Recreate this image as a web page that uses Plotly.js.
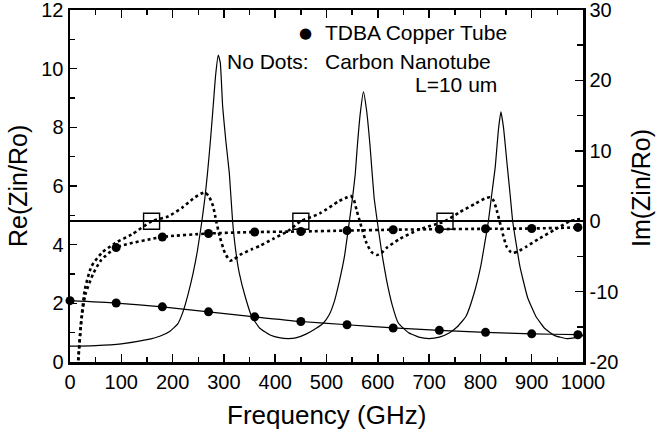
<!DOCTYPE html>
<html>
<head>
<meta charset="utf-8">
<script src="https://cdn.plot.ly/plotly-3.0.1.min.js"></script>
<style>html,body{margin:0;padding:0;background:#fff;}#chart{width:659px;height:436px;}</style>
</head>
<body>
<div id="chart"></div>
<script>
// ---- Data ----
// Carbon nanotube, Re(Zin/Ro) (left axis)
const cntReFreq = [0, 50, 100, 150, 175, 195, 210, 220, 230, 240, 248, 257, 263, 268, 274, 279, 284, 289, 293, 297.6, 304, 310.6, 317, 323, 330, 342, 354, 370, 390, 410, 425, 440, 460, 480, 494, 505, 515, 525, 535, 544.5, 551, 556, 560, 566, 572, 578, 585, 592.6, 599, 608, 617, 628, 640, 660, 680, 700, 720, 740, 755, 772, 787, 800.6, 808, 815.5, 822, 829, 835, 840, 845, 852.5, 858, 863, 870, 877, 892, 908, 925, 945, 968, 985, 1000];
const cntRe = [0.54, 0.56, 0.62, 0.76, 0.88, 1.05, 1.3, 1.7, 2.3, 3.03, 3.75, 4.79, 5.6, 6.43, 7.6, 8.7, 9.8, 10.46, 10.2, 8.7, 7.5, 6.43, 4.79, 3.8, 3.03, 2.2, 1.56, 1.15, 0.92, 0.82, 0.8, 0.82, 0.95, 1.15, 1.33, 1.6, 2.05, 2.75, 3.6, 4.79, 5.64, 6.4, 7.34, 8.5, 9.21, 8.6, 7.34, 5.64, 4.79, 3.7, 2.8, 1.95, 1.33, 1.0, 0.85, 0.8, 0.85, 1.0, 1.2, 1.56, 2.3, 3.26, 4.0, 4.79, 5.7, 6.66, 7.9, 8.53, 8.0, 6.66, 5.7, 4.79, 4.0, 3.26, 2.2, 1.56, 1.15, 0.9, 0.8, 0.83, 0.9];

// Carbon nanotube, Im(Zin/Ro) (right axis)
const cntImFreq = [12, 16, 22.7, 29, 42, 62, 88, 120, 160, 192, 220, 240, 255, 263, 271, 279, 285, 292, 302, 312, 320, 331, 354, 370, 396, 425, 450, 487, 523, 540, 547, 553, 558.6, 568, 578, 588, 598, 607, 617, 643, 680, 710, 731, 760, 790, 808, 818.7, 825, 831.7, 841.5, 851, 858, 864, 876, 890, 916, 945, 975, 1000];
const cntIm = [-24, -19.7, -13.5, -9.7, -6.4, -4.5, -3.1, -1.9, 0, 0.7, 2.0, 3.2, 3.9, 4.1, 3.5, 2.1, 0, -2.2, -4.5, -5.6, -5.4, -4.8, -4.0, -3.5, -2.5, -1.4, 0, 1.1, 2.8, 3.4, 3.6, 3.1, 1.6, -0.8, -3.1, -4.4, -4.8, -4.5, -3.8, -2.5, -1.2, -0.5, 0, 1.3, 2.5, 3.2, 3.4, 3.0, 1.6, -1.2, -3.6, -4.3, -4.5, -4.2, -3.6, -2.4, -1.2, 0, 0.4];

// TDBA copper tube (dots)
const cuDotFreq = [0, 90, 180, 270, 360, 450, 540, 630, 720, 810, 900, 990];
const cuReDots = [2.09, 2.01, 1.88, 1.71, 1.54, 1.38, 1.27, 1.16, 1.08, 1.01, 0.96, 0.93];
const cuImDotFreq = [90, 180, 270, 360, 450, 540, 630, 720, 810, 900, 990];
const cuImDots = [-3.75, -2.25, -1.75, -1.54, -1.46, -1.33, -1.21, -1.13, -1.08, -1.04, -0.88];
// copper Im curve lead-in below first dot and tails to the edge
const cuImLeadFreq = [12, 16, 22, 30, 45, 60];
const cuImLead = [-24, -20, -14.2, -10.4, -7.5, -5.6];
const cuReTailFreq = [1000];
const cuReTail = [0.92];
const cuImTailFreq = [1000];
const cuImTail = [-0.85];

// Open squares on the zero line
const squareFreq = [159, 450, 731];
const squareIm = [0, 0, 0];

// Tick labels
const xTicks = [0, 100, 200, 300, 400, 500, 600, 700, 800, 900, 1000];
const yTicks = [0, 2, 4, 6, 8, 10, 12];
const y2Ticks = [-20, -10, 0, 10, 20, 30];

// ---- Traces ----
const FONT = 'Liberation Sans, Arial, Helvetica, sans-serif';
const dotted = {color: '#000', width: 2.6, dash: '3px,3px', shape: 'spline', smoothing: 0.6};

const traces = [
  {x: cntReFreq, y: cntRe, type: 'scatter', mode: 'lines', yaxis: 'y',
   line: {color: '#000', width: 1.2, shape: 'spline', smoothing: 0.4}, hoverinfo: 'skip'},
  {x: cntImFreq, y: cntIm, type: 'scatter', mode: 'lines', yaxis: 'y2', line: dotted, hoverinfo: 'skip'},
  {x: cuDotFreq.concat(cuReTailFreq), y: cuReDots.concat(cuReTail), type: 'scatter', mode: 'lines', yaxis: 'y',
   line: {color: '#000', width: 1.2, shape: 'spline', smoothing: 0.6}, hoverinfo: 'skip'},
  {x: cuImLeadFreq.concat(cuImDotFreq, cuImTailFreq), y: cuImLead.concat(cuImDots, cuImTail), type: 'scatter', mode: 'lines',
   yaxis: 'y2', line: dotted, hoverinfo: 'skip'},
  {x: cuDotFreq, y: cuReDots, type: 'scatter', mode: 'markers', yaxis: 'y', cliponaxis: false,
   marker: {color: '#000', size: 9}, hoverinfo: 'skip'},
  {x: cuImDotFreq, y: cuImDots, type: 'scatter', mode: 'markers', yaxis: 'y2', cliponaxis: false,
   marker: {color: '#000', size: 9}, hoverinfo: 'skip'},
  {x: squareFreq, y: squareIm, type: 'scatter', mode: 'markers', yaxis: 'y2', cliponaxis: false,
   marker: {symbol: 'square-open', size: 16, color: '#000', line: {width: 1.4, color: '#000'}}, hoverinfo: 'skip'}
];

const L = 70, R = 76, T = 10, B = 74;
const W = 659, H = 436;
const pw = W - L - R, ph = H - T - B;
const px = v => (v - L) / pw;
const py = v => (H - B - v) / ph;

const layout = {
  width: W, height: H,
  margin: {l: L, r: R, t: T, b: B, pad: 0},
  paper_bgcolor: '#fff', plot_bgcolor: '#fff',
  showlegend: false,
  font: {family: FONT, color: '#000', size: 20},
  xaxis: {
    range: [0, 1000], tickvals: xTicks, ticktext: xTicks.map(String),
    ticks: 'inside', ticklen: 8, tickwidth: 1.5, tickcolor: '#000',
    minor: {ticks: 'inside', dtick: 50, ticklen: 5, tickwidth: 1.5, tickcolor: '#000', showgrid: false},
    showline: true, linewidth: 2.5, linecolor: '#000', mirror: 'ticks',
    showgrid: false, zeroline: false, tickfont: {size: 20, family: FONT},
    ticklabeloverflow: 'allow'
  },
  yaxis: {
    range: [0, 12], tickvals: yTicks, ticktext: yTicks.map(String),
    ticks: 'inside', ticklen: 7, tickwidth: 1.5, tickcolor: '#000',
    minor: {ticks: 'inside', dtick: 1, ticklen: 5, tickwidth: 1.5, tickcolor: '#000', showgrid: false},
    showline: true, linewidth: 2.5, linecolor: '#000',
    showgrid: false, zeroline: false, tickfont: {size: 20, family: FONT},
    ticklabeloverflow: 'allow'
  },
  yaxis2: {
    range: [-20, 30], overlaying: 'y', side: 'right',
    tickvals: y2Ticks, ticktext: y2Ticks.map(String),
    ticks: 'inside', ticklen: 8, tickwidth: 1.5, tickcolor: '#000',
    minor: {ticks: 'inside', dtick: 5, ticklen: 6, tickwidth: 1.5, tickcolor: '#000', showgrid: false},
    showline: true, linewidth: 2.5, linecolor: '#000',
    showgrid: false, zeroline: true, zerolinecolor: '#000', zerolinewidth: 2,
    tickfont: {size: 20, family: FONT},
    ticklabeloverflow: 'allow'
  },
  annotations: [
    {text: 'Frequency (GHz)', xref: 'paper', yref: 'paper', x: 0.5, y: py(415), xanchor: 'center', yanchor: 'middle',
     showarrow: false, font: {size: 26, family: FONT}},
    {text: 'Re(Zin/Ro)', xref: 'paper', yref: 'paper', x: px(18), y: 0.5, xanchor: 'center', yanchor: 'middle',
     textangle: -90, showarrow: false, font: {size: 25, family: FONT}},
    {text: 'Im(Zin/Ro)', xref: 'paper', yref: 'paper', x: px(641), y: py(188), xanchor: 'center', yanchor: 'middle',
     textangle: -90, showarrow: false, font: {size: 25, family: FONT}},
    {text: '●', xref: 'paper', yref: 'paper', x: px(305), y: py(33), xanchor: 'center', yanchor: 'middle',
     showarrow: false, font: {size: 15, family: 'DejaVu Sans'}},
    {text: 'TDBA Copper Tube', xref: 'paper', yref: 'paper', x: px(323), y: py(33), xanchor: 'left', yanchor: 'middle',
     showarrow: false, font: {size: 21, family: FONT}},
    {text: 'No Dots:', xref: 'paper', yref: 'paper', x: px(311), y: py(61), xanchor: 'right', yanchor: 'middle',
     showarrow: false, font: {size: 21, family: FONT}},
    {text: 'Carbon Nanotube', xref: 'paper', yref: 'paper', x: px(323), y: py(61), xanchor: 'left', yanchor: 'middle',
     showarrow: false, font: {size: 21, family: FONT}},
    {text: 'L=10 um', xref: 'paper', yref: 'paper', x: px(499), y: py(85), xanchor: 'right', yanchor: 'middle',
     showarrow: false, font: {size: 21, family: FONT}}
  ]
};

Plotly.newPlot('chart', traces, layout, {staticPlot: true, displayModeBar: false});
</script>
</body>
</html>
